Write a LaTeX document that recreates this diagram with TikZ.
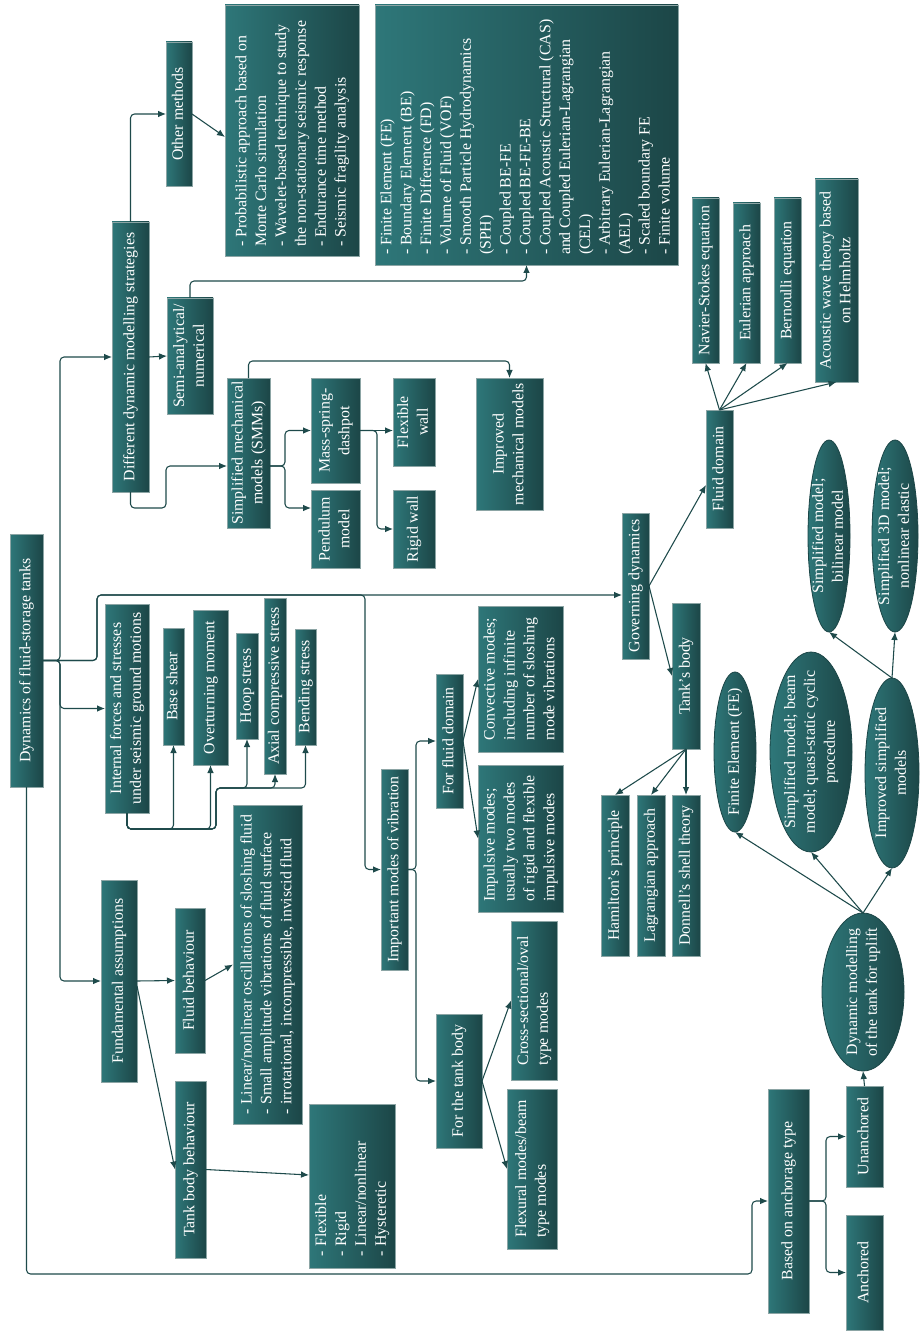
\documentclass[tikz,border=0pt]{standalone}
\usepackage{fontspec}
\usepackage{graphicx}
\setmainfont{Liberation Serif}
\usetikzlibrary{arrows.meta,calc,shapes.geometric}
\definecolor{tealL}{HTML}{2E7779}
\definecolor{tealD}{HTML}{1C4647}
\definecolor{lineC}{HTML}{1E4A4B}
\definecolor{bordC}{HTML}{8CA5A5}
\tikzset{
  box/.style={draw=bordC, line width=0.6pt, left color=tealL, right color=tealD, text=white,
    inner sep=0pt, outer sep=0pt, rectangle, font=\fontsize{11.9}{14.9}\selectfont},
  ell/.style={draw=tealD, line width=0.6pt, left color=tealL, right color=tealD, ellipse,
    inner sep=0pt, outer sep=0pt},
  etext/.style={text=white, inner sep=0pt, font=\fontsize{11.9}{14.9}\selectfont},
  arr/.style={draw=lineC, line width=0.8pt, rounded corners=3pt, -{Latex[length=6pt,width=5pt]}},
}
\newcommand\mybox[6]{\node[box,minimum width={(#4-#2)*0.75pt},minimum height={(#5-#3)*0.75pt}] (#1) at ({(#2+#4)/2},{(#3+#5)/2}) {\rotatebox{90}{\begin{tabular}{@{}c@{}}#6\end{tabular}}};}
\newcommand\myboxl[6]{\node[box,minimum width={(#4-#2)*0.75pt},minimum height={(#5-#3)*0.75pt}] (#1) at ({(#2+#4)/2},{(#3+#5)/2}) {\rotatebox{90}{\begin{tabular}{@{}l@{}}#6\end{tabular}}};}
\newcommand\mylist[7]{\node[box,minimum width={(#4-#2)*0.75pt},minimum height={(#5-#3)*0.75pt}] (#1) at ({(#2+#4)/2},{(#3+#5)/2}) {\rotatebox{90}{\makebox[\dimexpr(#5pt-#3pt-#6pt-#6pt)*3/4\relax][l]{\begin{tabular}{@{}l@{}}#7\end{tabular}}}};}
\newcommand\myell[6]{\node[ell,minimum width={#4*0.75pt},minimum height={#5*0.75pt}] (#1) at (#2,#3) {};
  \node[etext] at (#1) {\rotatebox{90}{\begin{tabular}{@{}c@{}}#6\end{tabular}}};}
\begin{document}
\begin{tikzpicture}[x=0.75pt,y=-0.75pt]
\fill[white] (0,0) rectangle (920,1333);
\useasboundingbox (0,0) rectangle (920,1333);

% boxes
\mybox{root}{10}{534}{43}{787}{Dynamics of fluid-storage tanks}
\mybox{dms}{112}{222}{149}{492}{Different dynamic modelling strategies}
\mybox{oth}{166}{42}{192}{186}{Other methods}
\mylist{prob}{225}{5}{359}{256}{9}{- Probabilistic approach based on\\Monte Carlo simulation\\- Wavelet-based technique to study\\the non-stationary seismic response\\- Endurance time method\\- Seismic fragility analysis}
\mylist{fe}{375}{5}{678}{265}{10}{- Finite Element (FE)\\- Boundary Element (BE)\\- Finite Difference (FD)\\- Volume of Fluid (VOF)\\- Smooth Particle Hydrodynamics\\(SPH)\\- Coupled BE-FE\\- Coupled BE-FE-BE\\- Coupled Acoustic Structural (CAS)\\and Coupled Eulerian-Lagrangian\\(CEL)\\- Arbitrary Eulerian-Lagrangian\\(AEL)\\- Scaled boundary FE\\- Finite volume}
\mybox{semi}{167}{298}{213}{414}{Semi-analytical/\\numerical}
\mybox{smm}{227}{378}{270}{528}{Simplified mechanical\\models (SMMs)}
\mybox{msd}{311}{378}{360}{483}{Mass-spring-\\dashpot}
\mybox{pend}{311}{490}{360}{568}{Pendulum\\model}
\mybox{flex}{393}{378}{435}{466}{Flexible\\wall}
\mybox{rigid}{393}{490}{435}{568}{Rigid wall}
\mybox{imm}{476}{378}{543}{510}{Improved\\mechanical models}
\mybox{int}{105}{604}{149}{813}{Internal forces and stresses\\under seismic ground motions}
\mybox{bs}{163}{628}{184}{745}{Base shear}
\mybox{om}{193}{610}{228}{765}{Overturning moment}
\mybox{hoop}{236}{633}{258}{739}{Hoop stress}
\mybox{axial}{264}{598}{286}{774}{Axial compressive stress}
\mybox{bend}{295}{629}{316}{745}{Bending stress}
\mylist{lin}{233}{805}{302}{1124}{10}{- Linear/nonlinear oscillations of sloshing fluid\\- Small amplitude vibrations of fluid surface\\- irrotational, incompressible, inviscid fluid}
\mybox{fa}{101}{880}{137}{1082}{Fundamental assumptions}
\mybox{fb}{175}{908}{205}{1053}{Fluid behaviour}
\mybox{tbb}{175}{1081}{206}{1258}{Tank body behaviour}
\mylist{flist}{309}{1104}{395}{1268}{12}{- Flexible\\- Rigid\\- Linear/nonlinear\\- Hysteretic}
\mybox{imv}{381}{769}{408}{970}{Important modes of vibration}
\mybox{ffd}{436}{674}{463}{808}{For fluid domain}
\myboxl{conv}{478}{606}{563}{752}{Convective modes;\\including infinite\\number of sloshing\\mode vibrations}
\myboxl{imp}{478}{765}{563}{912}{Impulsive modes;\\usually two modes\\of rigid and flexible\\impulsive modes}
\mybox{ftb}{436}{1014}{482}{1148}{For the tank body}
\myboxl{cross}{511}{921}{557}{1080}{Cross-sectional/oval\\type modes}
\myboxl{flexm}{507}{1089}{557}{1249}{Flexural modes/beam\\type modes}
\mybox{gov}{622}{513}{649}{659}{Governing dynamics}
\mybox{tb}{672}{603}{700}{749}{Tank’s body}
\mybox{ham}{601}{795}{629}{956}{Hamilton’s principle}
\mybox{lag}{637}{795}{665}{956}{Lagrangian approach}
\mybox{don}{672}{795}{700}{956}{Donnell’s shell theory}
\mybox{fd}{706}{410}{733}{528}{Fluid domain}
\mybox{ns}{692}{198}{719}{363}{Navier-Stokes equation}
\mybox{eul}{733}{203}{760}{363}{Eulerian approach}
\mybox{ber}{774}{198}{801}{363}{Bernoulli equation}
\mybox{ac}{815}{179}{858}{382}{Acoustic wave theory based\\on Helmholtz}
\mybox{anb}{768}{1089}{809}{1313}{Based on anchorage type}
\mybox{unanc}{846}{1086}{883}{1187}{Unanchored}
\mybox{ancd}{846}{1215}{883}{1330}{Anchored}

% ellipses
\myell{fe2}{735}{752}{42}{160}{Finite Element (FE)}
\myell{sbm}{811}{752}{82}{200}{Simplified model; beam\\model; quasi-static cyclic\\procedure}
\myell{isim}{892}{773}{54}{190}{Improved simplified\\models}
\myell{sbil}{829}{536}{42}{192}{Simplified model;\\bilinear model}
\myell{s3d}{895}{536}{46}{192}{Simplified 3D model;\\nonlinear elastic}
\myell{dmu}{863}{992}{82}{158}{Dynamic modelling\\of the tank for uplift}

% connectors from root
\draw[arr] (root.east) -- ++(17,0) |- (dms.west);
\draw[arr] (root.east) -- ++(17,0) |- (int.west);
\draw[arr] (root.east) -- ++(17,0) |- (fa.west);
\draw[arr] (root.east) -- ++(54,0) |- ($(gov.west)+(0,9)$);
\draw[arr] (root.east) -- ++(54,0) |- (365,595) |- (imv.west);
\draw[arr] (root.south) |- (752,1274) |- (anb.west);

% modelling strategies
\draw[arr] (dms.east) -- (semi.west);
\draw[arr] (dms.north) |- (oth.west);
\draw[arr] (dms.south) -- ++(0,16) -| (166,466) -- ($(smm.west)+(0,13)$);
\draw[arr] (oth.east) -- ($(prob.west)+(0,6.5)$);
\draw[arr] (semi.north) -- ++(0,-17) -| (fe.south);
\draw[arr] (smm.north) -- ++(0,-17) -| (imm.north);
\draw[arr] ($(smm.east)+(0,13)$) -- ++(15,0) |- (msd.west);
\draw[arr] ($(smm.east)+(0,13)$) -- ++(15,0) |- ($(pend.west)+(0,-21)$);
\draw[arr] (msd.east) -- (flex.west |- msd.east);
\draw[arr] (msd.east) -- ++(17,0) |- (rigid.west);

% internal forces
\draw[arr] (int.south) -- ++(0,16) -| (bs.south);
\draw[arr] (int.south) -- ++(0,16) -| (om.south);
\draw[arr] (int.south) -- ++(0,16) -| (216,788) -| (hoop.south);
\draw[arr] (int.south) -- ++(0,16) -| (216,788) -| (axial.south);
\draw[arr] (int.south) -- ++(0,16) -| (216,788) -| (bend.south);

% assumptions
\draw[arr] (fa.east) -- (fb.west);
\draw[arr] ($(fa.east)+(0,5)$) -- (tbb.west);
\draw[arr] (fb.east) -- (lin.west);
\draw[arr] (tbb.east) -- ($(flist.west)+(0,-11)$);

% modes of vibration
\draw[arr] (imv.east) -- ++(8,0) |- (ffd.west);
\draw[arr] (imv.east) -- ++(8,0) |- (ftb.west);
\draw[arr] (ffd.east) -- (conv.west);
\draw[arr] (ffd.east) -- (imp.west);
\draw[arr] (ftb.east) -- (cross.west);
\draw[arr] (ftb.east) -- (flexm.west);

% governing dynamics
\draw[arr] (gov.east) -- ($(fd.west)+(0,16)$);
\draw[arr] (gov.east) -- (tb.west);
\draw[arr] (tb.south) -- (ham.north);
\draw[arr] (tb.south) -- (lag.north);
\draw[arr] (tb.south) -- (don.north);
\draw[arr] (fd.north) -- (ns.south);
\draw[arr] (fd.north) -- (eul.south);
\draw[arr] (fd.north) -- (ber.south);
\draw[arr] (fd.north) -- (ac.south);

% anchorage
\draw[arr] (anb.east) -- ++(17,0) |- (unanc.west);
\draw[arr] (anb.east) -- ++(17,0) |- (ancd.west);
\draw[arr] (unanc.north) -- (dmu.south);
\draw[arr] (dmu.north) -- (fe2.south);
\draw[arr] (dmu.north) -- (sbm.south);
\draw[arr] (dmu.north) -- (isim.south);
\draw[arr] (isim.north) -- (sbil.south);
\draw[arr] (isim.north) -- (s3d.south);
\end{tikzpicture}
\end{document}
